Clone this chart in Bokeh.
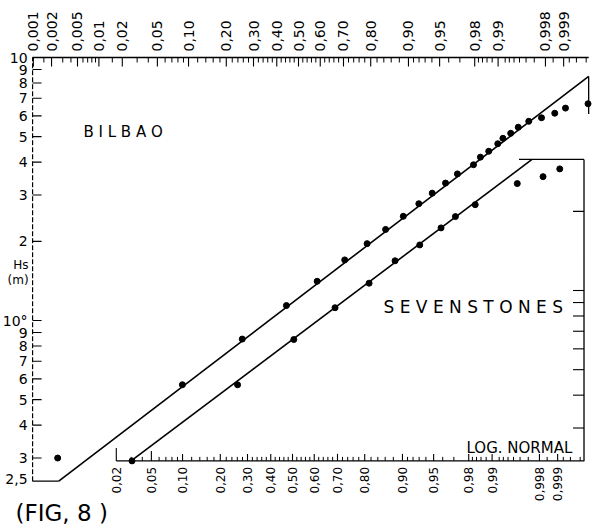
from statistics import NormalDist
import numpy as np
from bokeh.plotting import figure
from bokeh.models import Range1d, LogScale
from bokeh.core.properties import value
from bokeh.embed import file_html
from bokeh.resources import INLINE

nd = NormalDist()


def z(p):
    return [nd.inv_cdf(v) for v in p]


# ---------------- data ----------------
# BILBAO: probability plotting positions and significant wave height Hs (m)
bilbao_p = [0.0025, 0.088, 0.256, 0.444, 0.586, 0.705, 0.788, 0.845, 0.889, 0.9196,
            0.9404, 0.9567, 0.968, 0.9793, 0.983, 0.9867, 0.9899, 0.9914, 0.9933,
            0.99478, 0.99636, 0.99769, 0.99859, 0.99907, 0.99963]
bilbao_hs = [0.30, 0.57, 0.85, 1.14, 1.41, 1.70, 1.96, 2.22, 2.49, 2.78,
             3.05, 3.33, 3.61, 3.91, 4.18, 4.40, 4.70, 4.93, 5.15,
             5.43, 5.72, 5.90, 6.14, 6.42, 6.67]
bilbao_fit_p = [0.0026, 0.99964]
bilbao_fit_hs = [0.245, 8.47]

# SEVENSTONES (its own, shifted probability paper)
seven_p = [0.0307, 0.261, 0.506, 0.690, 0.814, 0.884, 0.931, 0.9583, 0.9712, 0.9834,
           0.9956, 0.99825, 0.99908]
seven_hs = [0.225, 0.438, 0.651, 0.86, 1.066, 1.297, 1.49, 1.73, 1.91, 2.12,
            2.55, 2.71, 2.90]
seven_fit_p = [0.0305, 0.99738]
seven_fit_hs = [0.226, 3.15]

# axis ticks
top_major_p = [0.001, 0.002, 0.005, 0.01, 0.02, 0.05, 0.10, 0.20, 0.30, 0.40, 0.50,
               0.60, 0.70, 0.80, 0.90, 0.95, 0.98, 0.99, 0.998, 0.999]
top_major_lab = ["0,001", "0,002", "0,005", "0,01", "0,02", "0,05", "0,10", "0,20",
                 "0,30", "0,40", "0,50", "0,60", "0,70", "0,80", "0,90", "0,95",
                 "0,98", "0,99", "0,998", "0,999"]
bot_major_p = top_major_p[4:]
bot_major_lab = top_major_lab[4:]
minor_p = ([0.0015, 0.003, 0.004, 0.006, 0.007, 0.008, 0.009, 0.015, 0.03, 0.04,
            0.06, 0.07, 0.08, 0.09]
           + [round(0.10 + 0.02 * i, 2) for i in range(1, 40)]
           + [0.91, 0.92, 0.93, 0.94, 0.96, 0.97, 0.982, 0.984, 0.986, 0.988,
              0.992, 0.993, 0.994, 0.995, 0.996, 0.997, 0.9985, 0.9992, 0.9994, 0.9996])
minor_p = [v for v in minor_p if v not in top_major_p]

left_vals = [10, 9, 8, 7, 6, 5, 4, 3, 2, 1, 0.9, 0.8, 0.7, 0.6, 0.5, 0.4, 0.3, 0.25]
left_labs = ["10", "9", "8", "7", "6", "5", "4", "3", "2", "10°", "9", "8", "7", "6",
             "5", "4", "3", "2,5"]
seven_right_vals = [0.3, 0.4, 0.5, 0.6, 0.7, 0.8, 0.9, 1.0, 2.0]

# frames
main_p_left, main_p_right = 0.00097, 0.99964
main_hs_top, main_hs_bot = 10.0, 0.245
main_right_stub_hs = 6.1
seven_p_left, seven_p_right, seven_p_top_start = 0.02, 0.99966, 0.99585
seven_hs_bot, seven_hs_top = 0.225, 3.15

# ---------------- layout ----------------
W, H = 592, 528
X0, KX = 298.0, 85.8        # canvas x of probit 0, px per probit unit
YTOP, KY = 57.0, 263.0      # canvas y of Hs=10, px per decade
x_start, x_end = (0 - X0) / KX, (W - X0) / KX
log_top, log_bot = 1 + YTOP / KY, 1 - (H - YTOP) / KY
dx, dlog = 6.0 / KX, -30.0 / KY   # offset of the SEVENSTONES paper

p = figure(width=W, height=H, x_range=Range1d(x_start, x_end),
           y_range=Range1d(10 ** log_bot, 10 ** log_top), y_axis_type="log",
           x_axis_location=None, y_axis_location=None, toolbar_location=None,
           output_backend="svg", min_border=0, outline_line_color=None)
p.extra_x_ranges = {"seven": Range1d(x_start + dx, x_end + dx)}
p.extra_y_ranges = {"seven": Range1d(10 ** (log_bot + dlog), 10 ** (log_top + dlog))}
p.extra_y_scales = {"seven": LogScale()}
for g in p.grid:
    g.visible = False

FONT = value("DejaVu Sans")
S = dict(x_range_name="seven", y_range_name="seven")
xl, xr = nd.inv_cdf(main_p_left), nd.inv_cdf(main_p_right)

# ---- main (BILBAO) frame ----
p.line([xl, xl], [main_hs_bot, main_hs_top], line_color="black", line_width=1.2,
       line_dash="5 2")
p.line([xl, xr], [main_hs_top, main_hs_top], line_color="black", line_width=1.3)
p.line([xl, nd.inv_cdf(bilbao_fit_p[0])], [main_hs_bot, main_hs_bot],
       line_color="black", line_width=1.3)
p.line([xr, xr], [bilbao_fit_hs[1], main_right_stub_hs], line_color="black",
       line_width=1.3)

p.ray(x=z(top_major_p), y=[main_hs_top] * len(top_major_p), length=9,
      length_units="screen", angle=-np.pi / 2, line_color="black", line_width=1.1)
p.ray(x=z(minor_p), y=[main_hs_top] * len(minor_p), length=5,
      length_units="screen", angle=-np.pi / 2, line_color="black", line_width=1)
p.text(x=z(top_major_p), y=[main_hs_top] * len(top_major_p), text=top_major_lab,
       angle=np.pi / 2, text_align="left", text_baseline="middle", y_offset=-6,
       text_font=FONT, text_font_size="14px", text_color="black")

p.ray(x=[xl] * (len(left_vals) - 1), y=left_vals[:-1], length=9,
      length_units="screen", angle=0, line_color="black", line_width=1.1)
p.text(x=[xl] * len(left_vals), y=left_vals, text=left_labs, x_offset=-5,
       text_align="right", text_baseline="middle", text_font=FONT,
       text_font_size="14px", text_color="black")
p.text(x=[xl, xl], y=[1.63, 1.42], text=["Hs", "(m)"], x_offset=-4,
       text_align="right", text_baseline="middle", text_font=FONT,
       text_font_size="12px", text_color="black")

# ---- SEVENSTONES frame ----
sxl, sxr = nd.inv_cdf(seven_p_left), nd.inv_cdf(seven_p_right)
p.line([sxl, sxr, sxr], [seven_hs_bot, seven_hs_bot, seven_hs_top],
       line_color="black", line_width=1.3, **S)
p.line([nd.inv_cdf(seven_p_top_start), sxr], [seven_hs_top, seven_hs_top],
       line_color="black", line_width=1.3, **S)
bmin = [v for v in minor_p if v > 0.02]
p.ray(x=z(bot_major_p), y=[seven_hs_bot] * len(bot_major_p),
      length=[13, 10] + [7] * (len(bot_major_p) - 2), length_units="screen",
      angle=np.pi / 2, line_color="black", line_width=1.1, **S)
p.ray(x=z(bmin), y=[seven_hs_bot] * len(bmin), length=4, length_units="screen",
      angle=np.pi / 2, line_color="black", line_width=1, **S)
p.text(x=z(bot_major_p), y=[seven_hs_bot] * len(bot_major_p), text=bot_major_lab,
       angle=np.pi / 2, text_align="right", text_baseline="middle", y_offset=6,
       text_font=FONT, text_font_size="12px", text_color="black", **S)
p.ray(x=[sxr] * len(seven_right_vals), y=seven_right_vals, length=11,
      length_units="screen", angle=np.pi, line_color="black", line_width=1.1, **S)

# ---- data ----
p.line(z(bilbao_fit_p), bilbao_fit_hs, line_color="black", line_width=1.6)
p.scatter(z(bilbao_p), bilbao_hs, size=6, color="black")
p.line(z(seven_fit_p), seven_fit_hs, line_color="black", line_width=1.6, **S)
p.scatter(z(seven_p), seven_hs, size=6, color="black", **S)

# ---- texts ----
p.text(x=[-2.506], y=[5.23], text=["B I L B A O"], text_align="left",
       text_baseline="middle", text_font=FONT, text_font_size="15px", text_color="black")
p.text(x=[0.991], y=[1.13], text=["S E V E N S T O N E S"], text_align="left",
       text_baseline="middle", text_font=FONT, text_font_size="17px", text_color="black")
p.text(x=[1.958], y=[0.328], text=["LOG.  NORMAL"], text_align="left",
       text_baseline="middle", text_font=FONT, text_font_size="15px", text_color="black")
p.text(x=[-3.298], y=[0.186], text=["(FIG, 8 )"], text_align="left",
       text_baseline="middle", text_font=FONT, text_font_size="23px", text_color="black")

open("out.html", "w").write(file_html(p, INLINE))
